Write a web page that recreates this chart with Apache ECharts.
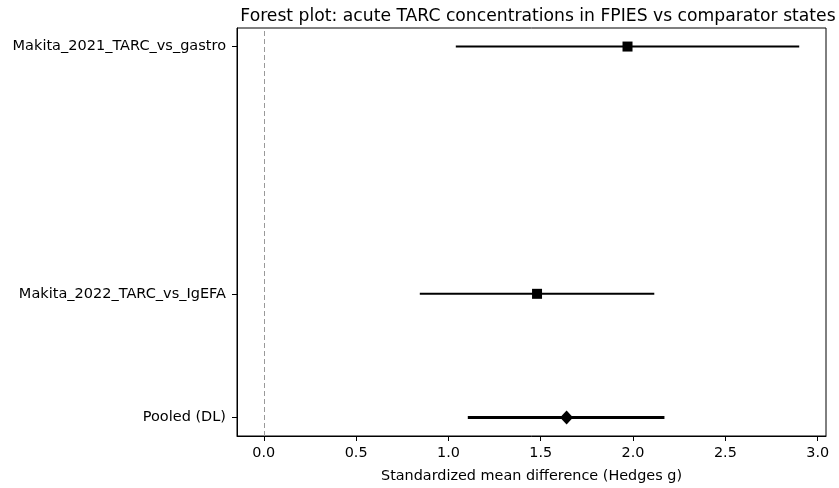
<!DOCTYPE html>
<html>
<head>
<meta charset="utf-8">
<script src="https://cdn.jsdelivr.net/npm/echarts@6/dist/echarts.min.js"></script>
<style>html,body{margin:0;padding:0;background:#fff}#c{width:839px;height:488px}</style>
</head>
<body>
<div id="c"></div>
<script>
const studyLabels = ["Pooled (DL)", "Makita_2022_TARC_vs_IgEFA", "Makita_2021_TARC_vs_gastro"];
const rowPos = [0, 1, 3];
const estimates = [1.64, 1.48, 1.97];
const ciLow = [1.105, 0.845, 1.04];
const ciHigh = [2.17, 2.115, 2.90];
const markerShapes = ["diamond", "rect", "rect"];
const xTicks = [0, 0.5, 1.0, 1.5, 2.0, 2.5, 3.0];

const font = "DejaVu Sans";
const chart = echarts.init(document.getElementById('c'), null, {renderer: 'canvas'});

const ciData = rowPos.map((y, i) => [ciLow[i], ciHigh[i], y, i]);
const ptData = rowPos.map((y, i) => ({
  value: [estimates[i], y],
  symbol: markerShapes[i],
  symbolSize: markerShapes[i] === 'diamond' ? [13, 14] : [10, 10]
}));

chart.setOption({
  animation: false,
  title: {
    text: "Forest plot: acute TARC concentrations in FPIES vs comparator states",
    left: 533, top: 3, textAlign: 'center',
    textStyle: {fontFamily: font, fontSize: 17.2, fontWeight: 'normal', color: '#000'}
  },
  grid: {left: 237, right: 13, top: 28, bottom: 51, show: true, borderColor: '#000', borderWidth: 1},
  xAxis: {
    type: 'value', min: -0.145, max: 3.045,
    name: "Standardized mean difference (Hedges g)",
    nameLocation: 'middle', nameGap: 33,
    nameTextStyle: {fontFamily: font, fontSize: 14.4, color: '#000'},
    axisLine: {show: true, onZero: false, lineStyle: {color: '#000'}},
    axisTick: {show: true, length: 5, customValues: xTicks, lineStyle: {color: '#000', width: 1}},
    axisLabel: {customValues: xTicks, formatter: v => v.toFixed(1), fontFamily: font, fontSize: 14.4, color: '#000', margin: 10},
    splitLine: {show: false}
  },
  yAxis: {
    type: 'value', min: -0.15, max: 3.15,
    axisLine: {show: true, onZero: false, lineStyle: {color: '#000'}},
    axisTick: {show: true, length: 5, customValues: rowPos, lineStyle: {color: '#000', width: 1}},
    axisLabel: {customValues: rowPos, formatter: v => studyLabels[rowPos.indexOf(v)], fontFamily: font, fontSize: 14.5, color: '#000', margin: 11},
    splitLine: {show: false}
  },
  series: [
    {
      type: 'line', data: [], silent: true,
      markLine: {
        silent: true, symbol: 'none', label: {show: false},
        lineStyle: {color: '#999999', type: [5, 3], width: 1},
        data: [{xAxis: 0}]
      }
    },
    {
      type: 'custom', silent: true, data: ciData,
      renderItem: function (params, api) {
        const a = api.coord([api.value(0), api.value(2)]);
        const b = api.coord([api.value(1), api.value(2)]);
        const idx = api.value(3);
        return {
          type: 'line',
          shape: {x1: a[0], y1: a[1], x2: b[0], y2: b[1]},
          style: {stroke: '#000', lineWidth: idx === 0 ? 3 : 2}
        };
      },
      z: 3
    },
    {
      type: 'scatter', data: ptData, silent: true,
      itemStyle: {color: '#000', opacity: 1}, z: 4
    }
  ]
});
</script>
</body>
</html>
